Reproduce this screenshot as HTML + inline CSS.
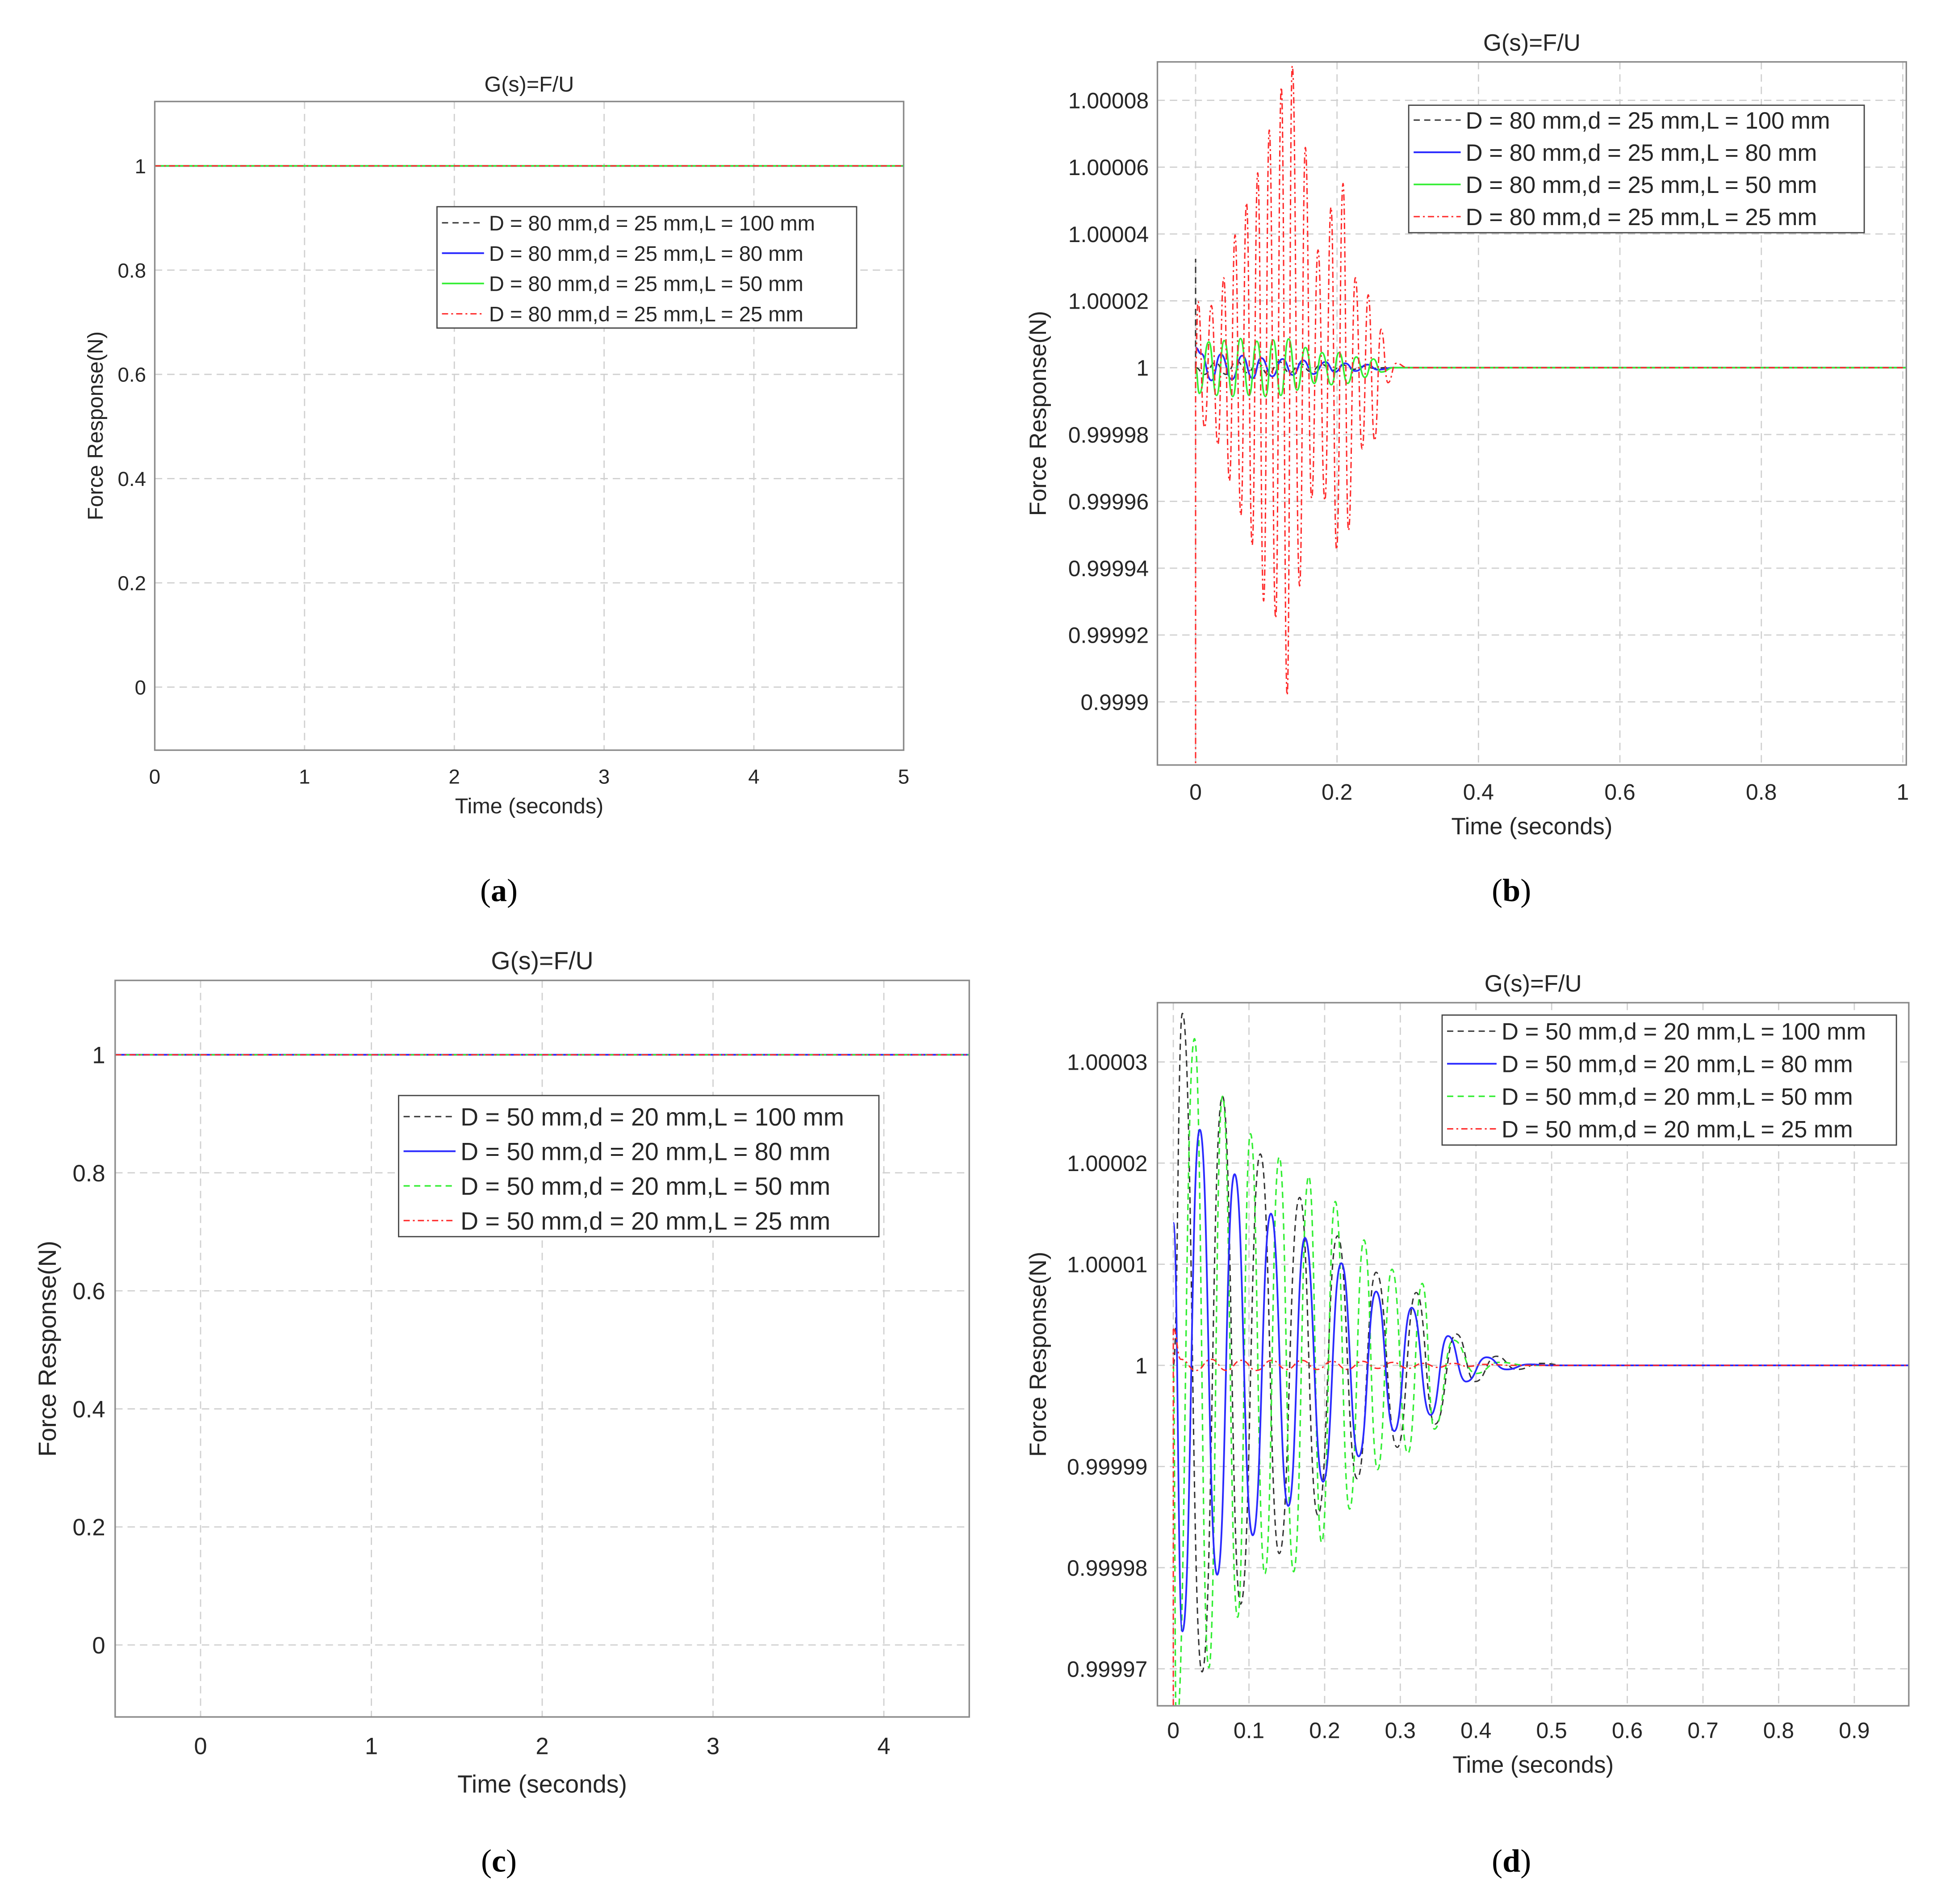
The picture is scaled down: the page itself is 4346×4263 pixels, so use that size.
<!DOCTYPE html>
<html><head><meta charset="utf-8"><style>
html,body{margin:0;padding:0;background:#fff}
svg{display:block}
text{font-family:"Liberation Sans",Arial,sans-serif;fill:#262626}
.cap{font-family:"Liberation Serif",serif;fill:#000}
</style></head><body>
<svg id="fig" xmlns="http://www.w3.org/2000/svg" width="4346" height="4263" viewBox="0 0 1568 1538.1"></svg>
<script>
// ---------- Data ----------
const flatLevel = 1;
const aXTicks = [0,1,2,3,4,5];
const aYTicks = [0,0.2,0.4,0.6,0.8,1];
const cXTicks = [0,1,2,3,4];
const cYTicks = [0,0.2,0.4,0.6,0.8,1];
const bXTicks = [0,0.2,0.4,0.6,0.8,1];
const bYTicks = [-10,-8,-6,-4,-2,0,2,4,6,8];
const bYLabels = ["0.9999","0.99992","0.99994","0.99996","0.99998","1","1.00002","1.00004","1.00006","1.00008"];
const bRedT = [0,0.0034,0.0126,0.0223,0.0315,0.0398,0.0478,0.0558,0.064,0.072,0.080,0.0878,0.0962,0.1042,0.1132,0.1212,0.1295,0.1367,0.1471,0.1552,0.1641,0.1731,0.1828,0.1915,0.1993,0.2085,0.2162,0.2259,0.2356,0.2441,0.2531,0.2623,0.272,0.2836,0.30,1.01];
const bRedV = [0,1.98,-1.79,1.86,-2.30,2.69,-3.39,3.97,-4.42,4.93,-5.31,5.83,-6.98,7.11,-7.49,8.39,-9.80,9.03,-6.53,6.59,-3.91,3.52,-3.97,4.80,-5.44,5.51,-4.87,2.69,-2.43,2.18,-2.18,1.15,-0.45,0.13,0,0];
const bBlueT = [0,0.0078,0.0223,0.0356,0.0514,0.0659,0.0805,0.0926,0.1084,0.1229,0.1375,0.152,0.1665,0.1835,0.1968,0.2114,0.2259,0.2429,0.2575,0.28,1.01];
const bBlueV = [0.6,0.42,-0.38,0.40,-0.35,0.36,-0.32,0.29,-0.26,0.26,-0.22,0.22,-0.19,0.17,-0.13,0.13,-0.10,0.09,-0.06,0,0];
const bGreenT = [0,0.0053,0.0187,0.0296,0.0405,0.0526,0.0635,0.0756,0.0865,0.0987,0.1096,0.1205,0.1314,0.1435,0.1552,0.1678,0.1787,0.192,0.2029,0.215,0.2272,0.2393,0.2514,0.2623,0.28,1.01];
const bGreenV = [0,-0.77,0.77,-0.83,0.81,-0.86,0.87,-0.83,0.79,-0.86,0.83,-0.83,0.86,-0.67,0.60,-0.47,0.45,-0.51,0.45,-0.47,0.32,-0.29,0.26,-0.13,0,0];
const bBlackT = [0,0.0125,0.028,0.043,0.058,0.073,0.088,0.103,0.118,0.133,0.148,0.163,0.178,0.193,0.208,0.223,0.238,0.253,0.27,1.01];
const bBlackV = [0,-0.2,0.15,-0.2,0.2,-0.15,0.15,-0.2,0.18,-0.15,0.12,-0.12,0.1,-0.08,0.08,-0.05,0.04,-0.02,0,0];
const bSpikeBlack = 3.26;
const bSpikeRed = -12;
const dXTicks = [0,0.1,0.2,0.3,0.4,0.5,0.6,0.7,0.8,0.9];
const dYTicks = [-3,-2,-1,0,1,2,3];
const dYLabels = ["0.99997","0.99998","0.99999","1","1.00001","1.00002","1.00003"];
const dBlackT = [0,0.012,0.038,0.065,0.089,0.115,0.140,0.167,0.191,0.217,0.243,0.268,0.296,0.321,0.346,0.374,0.399,0.427,0.454,0.486,0.52,0.98];
const dBlackV = [0,3.48,-3.03,2.66,-2.36,2.09,-1.86,1.66,-1.48,1.28,-1.12,0.92,-0.81,0.72,-0.58,0.31,-0.16,0.09,-0.04,0.02,0,0];
const dBlueT = [0,0.012,0.035,0.058,0.081,0.105,0.129,0.152,0.174,0.198,0.222,0.245,0.268,0.292,0.315,0.340,0.363,0.387,0.414,0.440,0.470,0.50,0.98];
const dBlueV = [1.41,-2.63,2.33,-2.07,1.89,-1.68,1.50,-1.39,1.26,-1.15,1.01,-0.90,0.73,-0.65,0.57,-0.49,0.29,-0.16,0.08,-0.04,0.01,0,0];
const dGreenT = [0,0.004,0.028,0.047,0.065,0.085,0.102,0.121,0.140,0.159,0.179,0.196,0.214,0.233,0.252,0.270,0.289,0.310,0.329,0.345,0.37,0.40,0.43,0.47,0.98];
const dGreenV = [0,-3.6,3.23,-2.99,2.66,-2.49,2.29,-2.06,2.06,-2.04,1.87,-1.75,1.62,-1.42,1.24,-1.03,0.95,-0.87,0.81,-0.63,0.25,-0.08,0.03,0,0];
const dRedT = [0,0.01,0.03,0.05,0.07,0.09,0.11,0.13,0.15,0.17,0.19,0.21,0.23,0.25,0.27,0.29,0.31,0.33,0.35,0.37,0.39,0.41,0.45,0.98];
const dRedV = [0.36,0.06,-0.05,0.06,-0.05,0.05,-0.05,0.05,-0.04,0.05,-0.04,0.04,-0.04,0.04,-0.03,0.03,-0.03,0.02,-0.02,0.02,-0.01,0.01,0,0];
const dSpikeRed = -4;
const legendA = ["D = 80 mm,d = 25 mm,L = 100 mm","D = 80 mm,d = 25 mm,L = 80 mm","D = 80 mm,d = 25 mm,L = 50 mm","D = 80 mm,d = 25 mm,L = 25 mm"];
const legendC = ["D = 50 mm,d = 20 mm,L = 100 mm","D = 50 mm,d = 20 mm,L = 80 mm","D = 50 mm,d = 20 mm,L = 50 mm","D = 50 mm,d = 20 mm,L = 25 mm"];

// ---------- Drawing ----------
const NS = "http://www.w3.org/2000/svg";
const svg = document.getElementById('fig');
function mk(tag, attrs, parent){const e=document.createElementNS(NS,tag);for(const k in attrs)e.setAttribute(k,attrs[k]);(parent||svg).appendChild(e);return e;}
const STY = {
  black:{stroke:"#333",dash:"5 3.5",w:1.1},
  blue:{stroke:"#2a2aff",dash:"",w:1.4},
  greenS:{stroke:"#33ee33",dash:"",w:1.3},
  greenD:{stroke:"#33ee33",dash:"5 3.5",w:1.2},
  red:{stroke:"#ff2a2a",dash:"5 2.5 1.5 2.5",w:1.1}
};
let clipN=0;
function panel(p){
  const g = mk('g',{});
  
  
  p.sx = v => p.x0 + (v-p.xmin)/(p.xmax-p.xmin)*(p.x1-p.x0);
  p.sy = v => p.y1 - (v-p.ymin)/(p.ymax-p.ymin)*(p.y1-p.y0);
  const bg = mk('rect',{x:p.x0,y:p.y0,width:p.x1-p.x0,height:p.y1-p.y0,fill:"#fff",stroke:"none"},g);
  
  
  const grid = mk('g',{stroke:"#d0d0d0","stroke-width":1,"stroke-dasharray":"6 4"},g);
  
  
  p.xt.forEach((v,i)=>{
    const x=p.sx(v);
    mk('line',{x1:x,x2:x,y1:p.y0,y2:p.y1},grid);
    const t=mk('text',{x:x,y:p.y1+p.xlOff,"text-anchor":"middle","font-size":p.fs},g);
    t.textContent = p.xl ? p.xl[i] : String(v);
    
    
  });
  p.yt.forEach((v,i)=>{
    const y=p.sy(v);
    mk('line',{x1:p.x0,x2:p.x1,y1:y,y2:y},grid);
    const t=mk('text',{x:p.x0-p.ylOff,y:y+p.fs*0.36,"text-anchor":"end","font-size":p.fs},g);
    t.textContent = p.yl ? p.yl[i] : String(v);
    
    
  });
  const id='clip'+(clipN++);
  const cp=mk('clipPath',{id:id},g); mk('rect',{x:p.x0,y:p.y0,width:p.x1-p.x0,height:p.y1-p.y0},cp);
  const sg=mk('g',{"clip-path":`url(#${id})`},g);
  p.series.forEach(s=>{
    let d;
    if(s.smooth){
      d=`M${p.sx(s.t[0])},${p.sy(s.v[0])}`;
      for(let i=1;i<s.t.length;i++){
        const xa=p.sx(s.t[i-1]),xb=p.sx(s.t[i]),xm=(xa+xb)/2;
        d+=` C${xm},${p.sy(s.v[i-1])} ${xm},${p.sy(s.v[i])} ${xb},${p.sy(s.v[i])}`;
      }
    } else {
      d = s.t.map((t,i)=>(i?'L':'M')+p.sx(t)+','+p.sy(s.v[i])).join(' ');
    }
    const st=STY[s.style];
    const path=mk('path',{d:d,fill:"none",stroke:st.stroke,"stroke-width":st.w,"stroke-dasharray":st.dash},sg);
    
    
  });
  const frame=mk('rect',{x:p.x0,y:p.y0,width:p.x1-p.x0,height:p.y1-p.y0,fill:"none",stroke:"#8a8a8a","stroke-width":1.2},g);
  
  
  const ti=mk('text',{x:(p.x0+p.x1)/2,y:p.y0+p.titleOff,"text-anchor":"middle","font-size":p.fs+1},g);
  ti.textContent="G(s)=F/U";
  
  
  const xa=mk('text',{x:(p.x0+p.x1)/2,y:p.xTitleY,"text-anchor":"middle","font-size":p.fs+1},g);
  xa.textContent="Time (seconds)";
  
  
  const ya=mk('text',{x:0,y:0,"text-anchor":"middle","font-size":p.fs+1,transform:`translate(${p.yTitleX},${(p.y0+p.y1)/2}) rotate(-90)`},g);
  ya.textContent="Force Response(N)";
  
  
  const L=p.leg;
  const lg=mk('g',{},g);
  
  
  mk('rect',{x:L.x,y:L.y,width:L.w,height:L.h,fill:"#fff",stroke:"#444","stroke-width":1},lg);
  L.labels.forEach((lab,i)=>{
    const y=L.y+L.pad+L.row*i;
    const st=STY[L.styles[i]];
    mk('line',{x1:L.x+4,x2:L.x+4+L.ln,y1:y,y2:y,stroke:st.stroke,"stroke-width":st.w,"stroke-dasharray":st.dash},lg);
    const t=mk('text',{x:L.x+8+L.ln,y:y+L.fs*0.36,"font-size":L.fs},lg);
    t.textContent=lab;
    
    
  });
  const cap=mk('text',{x:p.cap[0],y:p.cap[1],"text-anchor":"middle","font-size":26,class:"cap"},g);
  cap.innerHTML='(<tspan font-weight="bold">'+p.capL+'</tspan>)';
  
  
}
panel({name:"panel-a",x0:125,y0:82,x1:730,y1:606,xmin:0,xmax:5,ymin:-0.121,ymax:1.1235,
  xt:aXTicks,yt:aYTicks,fs:16.5,xlOff:27,ylOff:7,titleOff:-8,xTitleY:657,yTitleX:83,
  series:[
    {name:"series-L100",style:"black",t:[0,5],v:[flatLevel,flatLevel]},
    {name:"series-L80",style:"blue",t:[0,5],v:[flatLevel,flatLevel]},
    {name:"series-L50",style:"greenS",t:[0,5],v:[flatLevel,flatLevel]},
    {name:"series-L25",style:"red",t:[0,5],v:[flatLevel,flatLevel]}],
  leg:{x:353,y:167,w:339,h:98,pad:13,row:24.5,ln:34,fs:17,labels:legendA,styles:["black","blue","greenS","red"]},
  cap:[403,728],capL:"a"});
panel({name:"panel-b",x0:935,y0:50,x1:1540,y1:618,xmin:-0.054,xmax:1.005,ymin:-11.89,ymax:9.15,
  xt:bXTicks,yt:bYTicks,yl:bYLabels,fs:18,xlOff:28,ylOff:7,titleOff:-9,xTitleY:674,yTitleX:845,
  series:[
    {name:"series-L100",style:"black",t:[0,0],v:[0,bSpikeBlack]},
    {name:"series-L100",style:"black",t:bBlackT,v:bBlackV,smooth:true},
    {name:"series-L80",style:"blue",t:bBlueT,v:bBlueV,smooth:true},
    {name:"series-L50",style:"greenS",t:bGreenT,v:bGreenV,smooth:true},
    {name:"series-L25",style:"red",t:[0,0],v:[0,bSpikeRed]},
    {name:"series-L25",style:"red",t:bRedT,v:bRedV,smooth:true}],
  leg:{x:1138,y:85,w:368,h:103,pad:12,row:26,ln:38,fs:19,labels:legendA,styles:["black","blue","greenS","red"]},
  cap:[1221,728],capL:"b"});
panel({name:"panel-c",x0:93,y0:792,x1:783,y1:1387,xmin:-0.5,xmax:4.5,ymin:-0.122,ymax:1.126,
  xt:cXTicks,yt:cYTicks,fs:19,xlOff:30,ylOff:8,titleOff:-9,xTitleY:1448,yTitleX:45,
  series:[
    {name:"series-L100",style:"black",t:[-0.5,4.5],v:[flatLevel,flatLevel]},
    {name:"series-L80",style:"blue",t:[-0.5,4.5],v:[flatLevel,flatLevel]},
    {name:"series-L50",style:"greenD",t:[-0.5,4.5],v:[flatLevel,flatLevel]},
    {name:"series-L25",style:"red",t:[-0.5,4.5],v:[flatLevel,flatLevel]}],
  leg:{x:322,y:885,w:388,h:114,pad:17,row:28,ln:42,fs:20,labels:legendC,styles:["black","blue","greenD","red"]},
  cap:[403,1512],capL:"c"});
panel({name:"panel-d",x0:935,y0:810,x1:1542,y1:1378,xmin:-0.021,xmax:0.972,ymin:-3.366,ymax:3.586,
  xt:dXTicks,yt:dYTicks,yl:dYLabels,fs:18,xlOff:26,ylOff:8,titleOff:-9,xTitleY:1432,yTitleX:845,
  series:[
    {name:"series-L100",style:"black",t:dBlackT,v:dBlackV,smooth:true},
    {name:"series-L50",style:"greenD",t:dGreenT,v:dGreenV,smooth:true},
    {name:"series-L80",style:"blue",t:dBlueT,v:dBlueV,smooth:true},
    {name:"series-L25",style:"red",t:[0,0],v:[dRedV[0],dSpikeRed]},
    {name:"series-L25",style:"red",t:dRedT,v:dRedV,smooth:true}],
  leg:{x:1165,y:820,w:367,h:105,pad:13,row:26.3,ln:40,fs:19,labels:legendC,styles:["black","blue","greenD","red"]},
  cap:[1221,1512],capL:"d"});
</script>
</body></html>
